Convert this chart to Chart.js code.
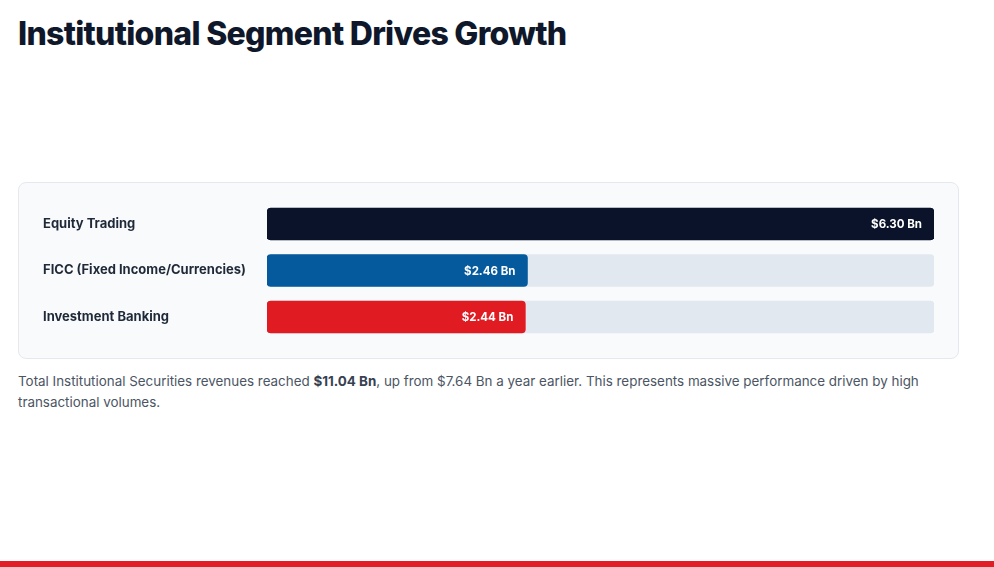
<!DOCTYPE html>
<html>
<head>
<meta charset="utf-8">
<script src="https://cdn.jsdelivr.net/npm/chart.js@4"></script>
<style>
  body { margin: 0; width: 994px; height: 567px; background: #fff; font-family: Inter, sans-serif; position: relative; overflow: hidden; }
  h1 { margin: 0; position: absolute; left: 18px; top: 14px; font-size: 32px; font-weight: 800; color: #0f172a; letter-spacing: -0.7px; }
  .card { position: absolute; left: 18px; top: 182px; width: 891px; padding: 18px 24px; background: #f8fafc; border: 1px solid #e5e9ef; border-radius: 8px; }
  .wrap { position: relative; height: 161px; margin: -11px 0; }
  p { position: absolute; left: 18px; top: 371px; width: 920px; margin: 0; font-size: 13.4px; line-height: 21px; color: #4b5563; }
  p b { color: #374151; }
  .foot { position: absolute; left: 0; bottom: 0; width: 994px; height: 6px; background: #e11d26; }
</style>
</head>
<body>
<h1>Institutional Segment Drives Growth</h1>
<div class="card"><div class="wrap"><canvas id="c"></canvas></div></div>
<p>Total Institutional Securities revenues reached <b>$11.04 Bn</b>, up from $7.64 Bn a year earlier. This represents massive performance driven by high transactional volumes.</p>
<div class="foot"></div>
<script>
// Segment revenues, $ Bn
const segments = ['Equity Trading', 'FICC (Fixed Income/Currencies)', 'Investment Banking'];
const revenues = [6.30, 2.46, 2.44];
const barColors = ['#0b132b', '#045a9c', '#e11b22'];
const scaleMax = 6.30;

const valueLabels = {
    id: 'valueLabels',
    afterDatasetsDraw(chart) {
        const ctx = chart.ctx;
        const meta = chart.getDatasetMeta(0);
        ctx.save();
        ctx.font = 'bold 11.5px Inter, sans-serif';
        ctx.fillStyle = '#fff';
        ctx.textAlign = 'right';
        ctx.textBaseline = 'middle';
        meta.data.forEach((bar, i) => {
            ctx.fillText('$' + revenues[i].toFixed(2) + ' Bn', bar.x - 12, bar.y + 1);
        });
        ctx.restore();
    }
};

new Chart(document.getElementById('c'), {
    type: 'bar',
    data: {
        labels: segments,
        datasets: [
            {
                data: revenues,
                backgroundColor: barColors,
                borderRadius: 4,
                borderSkipped: false,
                order: 0
            },
            {
                data: segments.map(() => scaleMax),
                backgroundColor: '#e2e8f0',
                borderRadius: 4,
                borderSkipped: false,
                order: 1
            }
        ]
    },
    plugins: [valueLabels],
    options: {
        indexAxis: 'y',
        responsive: true,
        maintainAspectRatio: false,
        animation: false,
        datasets: { bar: { grouped: false, barThickness: 32 } },
        layout: { padding: 0 },
        plugins: { legend: { display: false }, tooltip: { enabled: false } },
        scales: {
            x: { display: false, min: 0, max: scaleMax },
            y: {
                grid: { display: false },
                border: { display: false },
                afterFit(scale) { scale.width = 224; },
                ticks: {
                    crossAlign: 'far',
                    color: '#1f2937',
                    font: { family: 'Inter, sans-serif', size: 13, weight: '700' }
                }
            }
        }
    }
});
</script>
</body>
</html>
